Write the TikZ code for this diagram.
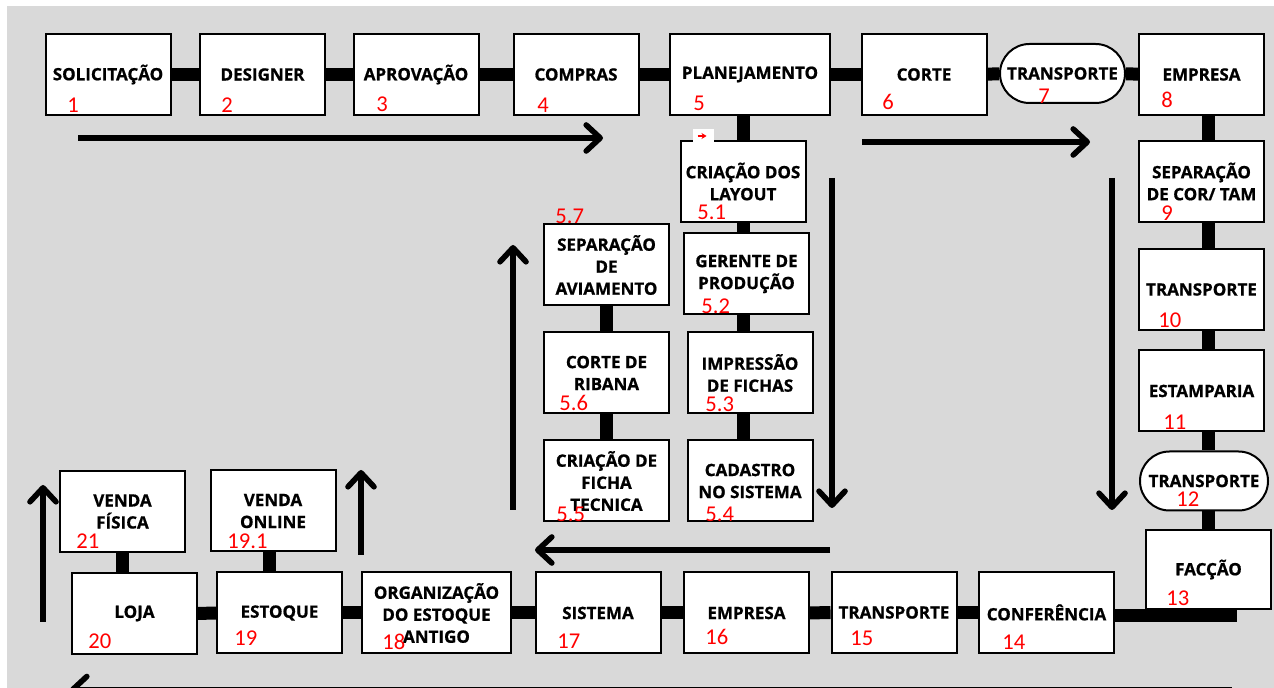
\documentclass[tikz,border=0pt]{standalone}
\usepackage{fontspec}
\usepackage{xcolor}
\usetikzlibrary{arrows.meta,shapes.misc}
\newfontfamily\labelfont{Open Sans}[BoldFeatures={FakeBold=0.8}]
\newfontfamily\numfont{Carlito}
\definecolor{bggray}{RGB}{217,217,217}
\definecolor{numred}{RGB}{255,0,0}

\begin{document}
\begin{tikzpicture}[
    x=0.5pt, y=-0.5pt,
    every node/.style={align=center},
    box/.style={rectangle, draw=black, line width=1pt, fill=white, minimum width=62.5pt, minimum height=40.5pt, inner sep=0pt, font=\labelfont\bfseries\fontsize{8.5}{11}\selectfont},
    pill/.style={box, rounded rectangle, minimum height=29.5pt},
    num/.style={anchor=west, inner sep=0pt, text=numred, font=\numfont\fontsize{11.3}{12}\selectfont},
    link/.style={line width=6.5pt},
    flow/.style={line width=2.8pt, -{Straight Barb[length=7pt, width=13pt, round]}}
]

% background
\fill[white] (0,0) rectangle (1274,688);
\fill[bggray] (7,6) rectangle (1274,688);
\useasboundingbox (0,0) rectangle (1274,688);

% flow arrows
\coordinate (f1a) at (78,138);   \coordinate (f1b) at (603,138);
\coordinate (f2a) at (862,142);  \coordinate (f2b) at (1090,142);
\coordinate (f3a) at (1112,178); \coordinate (f3b) at (1112,510);
\coordinate (f4a) at (832,178);  \coordinate (f4b) at (832,508);
\coordinate (f5a) at (830,550);  \coordinate (f5b) at (535,550);
\coordinate (f6a) at (513,510);  \coordinate (f6b) at (513,245);
\coordinate (f7a) at (361,555);  \coordinate (f7b) at (361,470);
\coordinate (f8a) at (43,622);   \coordinate (f8b) at (43,485);
\coordinate (f9a) at (1232,689.5); \coordinate (f9b) at (70,689.5);

\foreach \n in {1,...,8}
  \draw[flow] (f\n a) -- (f\n b);
\begin{scope}
  \clip (0,0) rectangle (1274,688);
  \draw[flow] (f9a) -- (f9b);
\end{scope}

% top row
\node[box] (sol) at (108,74.5) {SOLICITAÇÃO};
\node[box] (des) at (262.5,74.5) {DESIGNER};
\node[box] (apr) at (416,74.5) {APROVAÇÃO};
\node[box] (com) at (576,74.5) {COMPRAS};
\node[box, minimum width=80pt] (plan) at (750,74.5) {PLANEJAMENTO};
\node[box] (corte) at (924,74.5) {CORTE};
\node[pill] (trans7) at (1062.5,73.5) {TRANSPORTE};
\node[box] (emp8) at (1201.5,74.5) {EMPRESA};

% right column
\node[box] (sep) at (1201.5,181.5) {SEPARAÇÃO\\DE COR/ TAM};
\node[box] (trans10) at (1201.5,289.5) {TRANSPORTE};
\node[box] (estamp) at (1201.5,391) {ESTAMPARIA};
\node[pill, minimum width=64pt] (trans12) at (1204,481) {TRANSPORTE};
\node[box, minimum height=39.5pt] (fac) at (1208.5,569.5) {FACÇÃO};

% bottom row
\node[box, minimum width=67.5pt] (conf) at (1046.5,612.5) {CONFERÊNCIA};
\node[box] (trans15) at (894,612.5) {TRANSPORTE};
\node[box] (emp16) at (746.5,613) {EMPRESA};
\node[box] (sis) at (598,613) {SISTEMA};
\node[box, minimum width=74.5pt] (org) at (436.5,613) {ORGANIZAÇÃO\\DO ESTOQUE\\ANTIGO};
\node[box] (est) at (279.5,613) {ESTOQUE};
\node[box] (loja) at (134.5,613.5) {LOJA};
\node[box] (vfis) at (122.5,511.5) {VENDA\\FÍSICA};
\node[box] (vonl) at (273,511) {VENDA\\ONLINE};

% planning columns
\node[box] (layout) at (743,181.5) {CRIAÇÃO DOS\\LAYOUT};
\node[box] (ger) at (746.5,274) {GERENTE DE\\PRODUÇÃO};
\node[box] (imp) at (750,373) {IMPRESSÃO\\DE FICHAS};
\node[box] (cad) at (750,481) {CADASTRO\\NO SISTEMA};
\node[box] (avi) at (606.5,265) {SEPARAÇÃO\\DE\\AVIAMENTO};
\node[box] (rib) at (606.5,373) {CORTE DE\\RIBANA};
\node[box] (ficha) at (606.5,481) {CRIAÇÃO DE\\FICHA\\TECNICA};

% links
\foreach \a/\b in {sol/des, des/apr, apr/com, com/plan, plan/corte, corte/trans7, trans7/emp8}
  \draw[link] (\a) -- (\b);
\foreach \a/\b in {emp8/sep, sep/trans10, trans10/estamp, estamp/trans12, trans12/fac}
  \draw[link] (\a.south -| fac) -- (\b.north -| fac);
\coordinate (cfac) at (1237,616);
\draw[link] (conf.east |- cfac) -- (cfac);
\foreach \a/\b in {loja/est, est/org, org/sis, sis/emp16, emp16/trans15, trans15/conf}
  \draw[link] (\a) -- (\b);
\draw[link] (vfis.south) -- (vfis.south |- loja.north);
\draw[link] ([xshift=-2pt]vonl.south) -- ([xshift=-2pt]vonl.south |- est.north);
\draw[link] (plan.south -| layout) -- (layout.north);
\foreach \a/\b in {layout/ger, ger/imp, imp/cad}
  \draw[link] (\a.south -| layout) -- (\b.north -| layout);
\foreach \a/\b in {avi/rib, rib/ficha}
  \draw[link] (\a) -- (\b);

% small tag above layout
\node[fill=white, minimum width=10.5pt, minimum height=7pt, inner sep=0pt] (tag) at (703.5,136) {};
\draw[numred, line width=0.8pt, -{Stealth[length=2.5pt, width=3pt]}] ([xshift=-3pt]tag.center) -- ([xshift=1.5pt]tag.center);

% numbers
\node[num] (n1) at (67,105) {1};
\node[num] (n2) at (221,105) {2};
\node[num] (n3) at (376,104) {3};
\node[num] (n4) at (537,105) {4};
\node[num] (n5) at (693,103) {5};
\node[num] (n6) at (882,102) {6};
\node[num] (n7) at (1038,96) {7};
\node[num] (n8) at (1161,100) {8};
\node[num] (n9) at (1161,213) {9};
\node[num] (n10) at (1158,320) {10};
\node[num] (n11) at (1163,422) {11};
\node[num] (n12) at (1176,499) {12};
\node[num] (n13) at (1166,598) {13};
\node[num] (n14) at (1002,642) {14};
\node[num] (n15) at (850,638) {15};
\node[num] (n16) at (705,637) {16};
\node[num] (n17) at (557,641) {17};
\node[num] (n18) at (382,642) {18};
\node[num] (n19) at (234,638) {19};
\node[num] (n20) at (88,641) {20};
\node[num] (n21) at (76,541) {21};
\node[num] (n191) at (227,541) {19.1};
\node[num] (n51) at (697,212) {5.1};
\node[num] (n52) at (701,306) {5.2};
\node[num] (n53) at (705,404) {5.3};
\node[num] (n54) at (705,514) {5.4};
\node[num] (n55) at (556,514) {5.5};
\node[num] (n56) at (559,403) {5.6};
\node[num] (n57) at (555,216) {5.7};

\end{tikzpicture}
\end{document}
